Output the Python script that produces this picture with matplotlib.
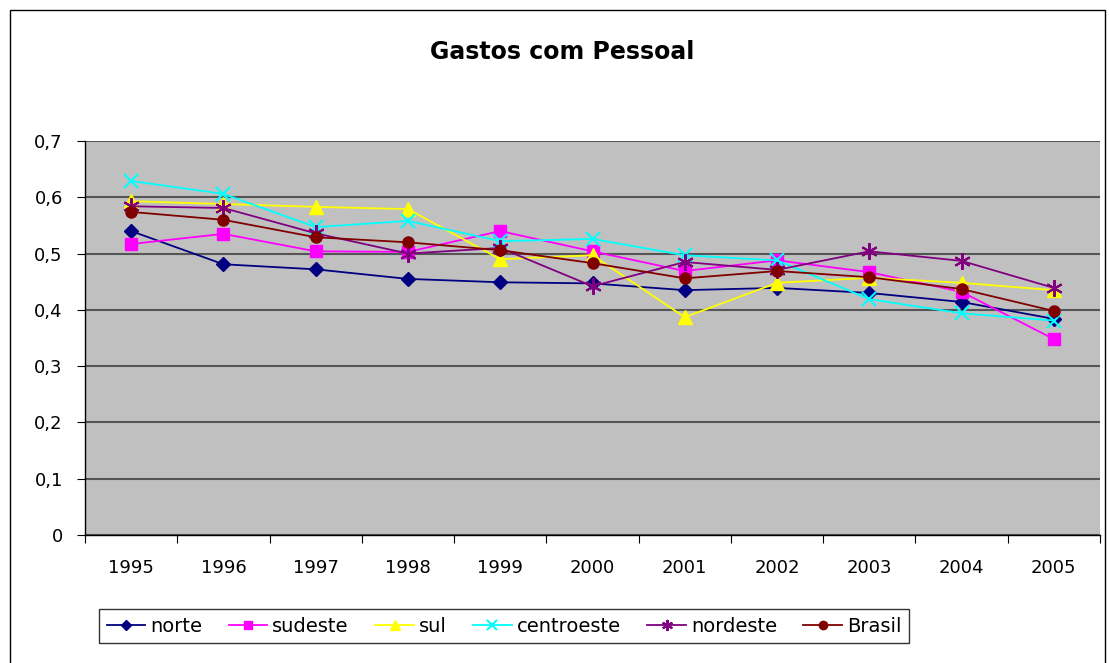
import matplotlib
matplotlib.use("Agg")
import matplotlib.pyplot as plt
from matplotlib.patches import Rectangle
from matplotlib.ticker import FixedLocator, FuncFormatter

years = ["1995", "1996", "1997", "1998", "1999", "2000", "2001", "2002", "2003", "2004", "2005"]
norte = [0.540, 0.481, 0.472, 0.455, 0.449, 0.447, 0.435, 0.439, 0.430, 0.414, 0.384]
sudeste = [0.517, 0.535, 0.504, 0.503, 0.540, 0.504, 0.469, 0.488, 0.467, 0.432, 0.348]
sul = [0.593, 0.588, 0.583, 0.579, 0.490, 0.497, 0.387, 0.448, 0.457, 0.448, 0.435]
centroeste = [0.629, 0.606, 0.547, 0.558, 0.522, 0.526, 0.497, 0.488, 0.419, 0.394, 0.381]
nordeste = [0.584, 0.581, 0.536, 0.500, 0.510, 0.442, 0.485, 0.471, 0.504, 0.487, 0.439]
brasil = [0.574, 0.560, 0.529, 0.520, 0.506, 0.483, 0.456, 0.469, 0.458, 0.437, 0.398]
yticks = [0, 0.1, 0.2, 0.3, 0.4, 0.5, 0.6, 0.7]

series = [
    ("norte", norte, "#000080", "D", 7, 5),
    ("sudeste", sudeste, "#FF00FF", "s", 8, 6),
    ("sul", sul, "#FFFF00", "^", 10, 7),
    ("centroeste", centroeste, "#00FFFF", "x", 10, 7),
    ("nordeste", nordeste, "#800080", (6, 2, 0), 12, 8),
    ("Brasil", brasil, "#800000", "o", 8, 6),
]

W, H = 1109, 663
fig = plt.figure(figsize=(W / 100, H / 100), dpi=100)
fig.patch.set_facecolor("white")
fig.add_artist(Rectangle((10 / W, -0.01), 1095 / W, (H - 10) / H + 0.01,
                         transform=fig.transFigure, fill=False, edgecolor="black", lw=1))

ax = fig.add_axes([85 / W, (H - 535) / H, (1100 - 85) / W, (535 - 141) / H])
ax.set_facecolor("#C0C0C0")
x = list(range(len(years)))
handles = []
for name, vals, col, mk, ms, lms in series:
    mew = 1.5 if mk in ("x",) or isinstance(mk, tuple) else 1
    ax.plot(x, vals, color=col, lw=1.3, marker=mk, markersize=ms,
            markeredgecolor=col, markerfacecolor=col, markeredgewidth=mew, zorder=3)
    h, = ax.plot([], [], color=col, lw=1.3, marker=mk, markersize=lms,
                 markeredgecolor=col, markerfacecolor=col, markeredgewidth=mew)
    h.set_label(name)
    handles.append(h)

ax.set_xlim(-0.5, len(years) - 0.5)
ax.set_ylim(0, 0.7)
ax.set_yticks(yticks)
ax.yaxis.set_major_formatter(FuncFormatter(lambda v, p: ("%g" % round(v, 1)).replace(".", ",")))
ax.yaxis.grid(True, color="#555555", lw=1.5)
ax.set_axisbelow(True)
ax.xaxis.set_major_locator(FixedLocator([i - 0.5 for i in range(len(years) + 1)]))
ax.xaxis.set_major_formatter(FuncFormatter(lambda v, p: ""))
ax.xaxis.set_minor_locator(FixedLocator(x))
ax.set_xticklabels(years, minor=True)
ax.tick_params(axis="x", which="minor", length=0, pad=17, labelsize=13)
ax.tick_params(axis="x", which="major", length=6, direction="out")
ax.tick_params(axis="y", length=6, direction="out", labelsize=13, pad=10)
for s in ("top", "right"):
    ax.spines[s].set_visible(False)
for s in ("left", "bottom"):
    ax.spines[s].set_color("black")
    ax.spines[s].set_linewidth(1)

fig.text(562 / W, 1 - 52 / H, "Gastos com Pessoal", ha="center", va="center",
         fontsize=17, fontweight="bold")

leg = fig.legend(handles=handles, loc="center", bbox_to_anchor=(504 / W, 1 - 626 / H),
                 ncol=6, frameon=True, fancybox=False, edgecolor="black",
                 fontsize=14, handlelength=2.0, handletextpad=0.25, columnspacing=1.35,
                 borderpad=0.4, borderaxespad=0)
leg.get_frame().set_linewidth(1)

fig.savefig("out.png", dpi=100)
